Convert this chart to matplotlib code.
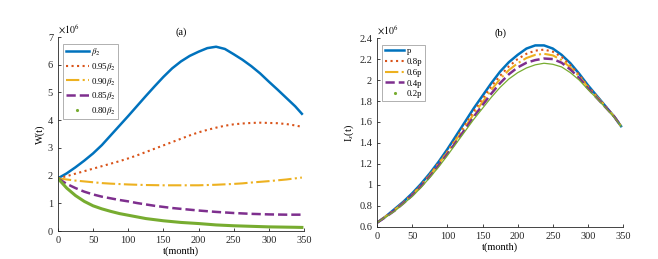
import numpy as np
import matplotlib
matplotlib.use("Agg")
import matplotlib.pyplot as plt
from matplotlib.lines import Line2D
from matplotlib.ticker import FormatStrFormatter

plt.rcParams['font.family'] = ['Liberation Serif', 'DejaVu Serif']
plt.rcParams['mathtext.fontset'] = 'stix'
plt.rcParams['font.size'] = 7.5

# time points (month)
t = [0, 12.5, 25, 37.5, 50, 62.5, 75, 87.5, 100, 112.5, 125, 137.5, 150, 162.5, 175,
     187.5, 200, 212.5, 225, 237.5, 250, 262.5, 275, 287.5, 300, 312.5, 325, 337.5, 347]

# panel (a): W(t), in units of 1e6
w_b100 = [1.9, 2.08, 2.3, 2.54, 2.8, 3.1, 3.45, 3.8, 4.15, 4.51, 4.87, 5.22, 5.56, 5.87, 6.12,
          6.32, 6.47, 6.6, 6.65, 6.57, 6.38, 6.18, 5.95, 5.69, 5.39, 5.1, 4.8, 4.5, 4.23]
w_b095 = [1.9, 1.98, 2.07, 2.16, 2.25, 2.34, 2.43, 2.52, 2.62, 2.73, 2.85, 2.97, 3.09, 3.21, 3.33,
          3.45, 3.56, 3.65, 3.73, 3.8, 3.85, 3.88, 3.9, 3.91, 3.9, 3.89, 3.86, 3.81, 3.76]
w_b090 = [1.9, 1.86, 1.82, 1.79, 1.76, 1.73, 1.71, 1.695, 1.68, 1.67, 1.66, 1.655, 1.65, 1.65, 1.65,
          1.65, 1.65, 1.66, 1.67, 1.685, 1.70, 1.72, 1.75, 1.775, 1.80, 1.83, 1.86, 1.9, 1.93]
w_b085 = [1.9, 1.7, 1.55, 1.42, 1.32, 1.24, 1.18, 1.12, 1.07, 1.01, 0.96, 0.91, 0.87, 0.83, 0.8,
          0.77, 0.74, 0.715, 0.69, 0.67, 0.65, 0.635, 0.62, 0.61, 0.6, 0.595, 0.59, 0.59, 0.59]
w_b080 = [1.9, 1.55, 1.28, 1.07, 0.91, 0.8, 0.71, 0.63, 0.57, 0.51, 0.45, 0.41, 0.37, 0.34, 0.31,
          0.29, 0.27, 0.245, 0.22, 0.205, 0.19, 0.18, 0.17, 0.16, 0.15, 0.145, 0.14, 0.135, 0.13]
labels_a = [r'$\beta_2$', r'0.95$\beta_2$', r'0.90$\beta_2$', r'0.85$\beta_2$', r'0.80$\beta_2$']

# panel (b): I_s(t), in units of 1e6
i_p100 = [0.64, 0.70, 0.77, 0.84, 0.92, 1.01, 1.11, 1.22, 1.34, 1.47, 1.60, 1.73, 1.85, 1.97, 2.08,
          2.17, 2.24, 2.30, 2.33, 2.33, 2.30, 2.24, 2.16, 2.06, 1.95, 1.85, 1.75, 1.65, 1.56]
i_p080 = [0.64, 0.70, 0.765, 0.835, 0.91, 1.0, 1.10, 1.21, 1.32, 1.445, 1.57, 1.70, 1.82, 1.94, 2.04,
          2.13, 2.20, 2.25, 2.28, 2.29, 2.27, 2.22, 2.14, 2.05, 1.94, 1.845, 1.75, 1.65, 1.56]
i_p060 = [0.64, 0.70, 0.76, 0.83, 0.905, 0.99, 1.09, 1.20, 1.31, 1.43, 1.55, 1.675, 1.79, 1.905, 2.01,
          2.095, 2.16, 2.21, 2.24, 2.25, 2.235, 2.19, 2.12, 2.035, 1.93, 1.84, 1.745, 1.65, 1.56]
i_p040 = [0.64, 0.695, 0.755, 0.825, 0.90, 0.985, 1.08, 1.185, 1.295, 1.41, 1.53, 1.65, 1.76, 1.87, 1.97,
          2.055, 2.12, 2.165, 2.19, 2.205, 2.20, 2.165, 2.10, 2.02, 1.92, 1.83, 1.74, 1.65, 1.56]
i_p020 = [0.64, 0.695, 0.75, 0.82, 0.89, 0.975, 1.07, 1.17, 1.28, 1.395, 1.51, 1.625, 1.73, 1.835, 1.93,
          2.01, 2.07, 2.115, 2.145, 2.16, 2.15, 2.125, 2.07, 2.0, 1.91, 1.825, 1.735, 1.645, 1.56]
labels_b = ['p', '0.8p', '0.6p', '0.4p', '0.2p']

colors = ['#0072BD', '#D95319', '#EDB120', '#7E2F8E', '#77AC30']
styles = ['-', ':', '-.', '--', '-']
widths = [1.8, 1.5, 1.5, 1.8]


def style_axes(ax):
    ax.spines['top'].set_visible(False)
    ax.spines['right'].set_visible(False)
    for s in ['left', 'bottom']:
        ax.spines[s].set_linewidth(0.6)
        ax.spines[s].set_color('#262626')
    ax.tick_params(direction='in', length=2.5, width=0.6, colors='#262626', labelsize=7.5)
    ax.set_xlim(0, 350)
    ax.set_xticks(np.arange(0, 351, 50))
    ax.set_xlabel('t(month)', labelpad=1)


fig = plt.figure(figsize=(6.58, 2.59), dpi=100)

# (a)
ax1 = fig.add_axes([0.088, 0.108, 0.374, 0.749])
series_a = [w_b100, w_b095, w_b090, w_b085]
for y, c, ls, lw in zip(series_a, colors, styles, widths):
    ax1.plot(t, y, color=c, linestyle=ls, linewidth=lw)
ax1.plot(t, w_b080, color=colors[4], linewidth=2.2)
style_axes(ax1)
ax1.set_ylim(0, 7)
ax1.set_yticks(np.arange(0, 8, 1))
ax1.set_ylabel('W(t)', labelpad=2)
ax1.set_title('(a)', pad=2, fontsize=7.5)
ax1.text(0.0, 1.005, r'$\times10^6$', transform=ax1.transAxes, fontsize=7, va='bottom', ha='left')

# (b)
ax2 = fig.add_axes([0.573, 0.124, 0.374, 0.729])
series_b = [i_p100, i_p080, i_p060, i_p040]
for y, c, ls, lw in zip(series_b, colors, styles, widths):
    ax2.plot(t, y, color=c, linestyle=ls, linewidth=lw)
ax2.plot(t, i_p020, color=colors[4], linewidth=0.9)
style_axes(ax2)
ax2.set_ylim(0.6, 2.4)
ax2.set_yticks(np.arange(0.6, 2.41, 0.2))
ax2.yaxis.set_major_formatter(FormatStrFormatter('%g'))
ax2.set_ylabel(r'I$_s$(t)', labelpad=2)
ax2.set_title('(b)', pad=2, fontsize=7.5)
ax2.text(0.0, 1.005, r'$\times10^6$', transform=ax2.transAxes, fontsize=7, va='bottom', ha='left')


def legend_handles():
    hs = [Line2D([], [], color=c, linestyle=ls, linewidth=lw)
          for c, ls, lw in zip(colors, styles, widths)]
    hs.append(Line2D([], [], color=colors[4], linestyle='none', marker='.', markersize=2.5))
    return hs


for ax, labels, hl in [(ax1, labels_a, 2.6), (ax2, labels_b, 2.2)]:
    leg = ax.legend(legend_handles(), labels, loc='upper left', bbox_to_anchor=(0.015, 0.975),
                    fontsize=6.3, frameon=True, fancybox=False, handlelength=hl,
                    handletextpad=0.25, labelspacing=0.3, borderpad=0.3, borderaxespad=0.2)
    leg.get_frame().set_edgecolor('#8c8c8c')
    leg.get_frame().set_linewidth(0.6)

fig.savefig('out.png', dpi=100)
